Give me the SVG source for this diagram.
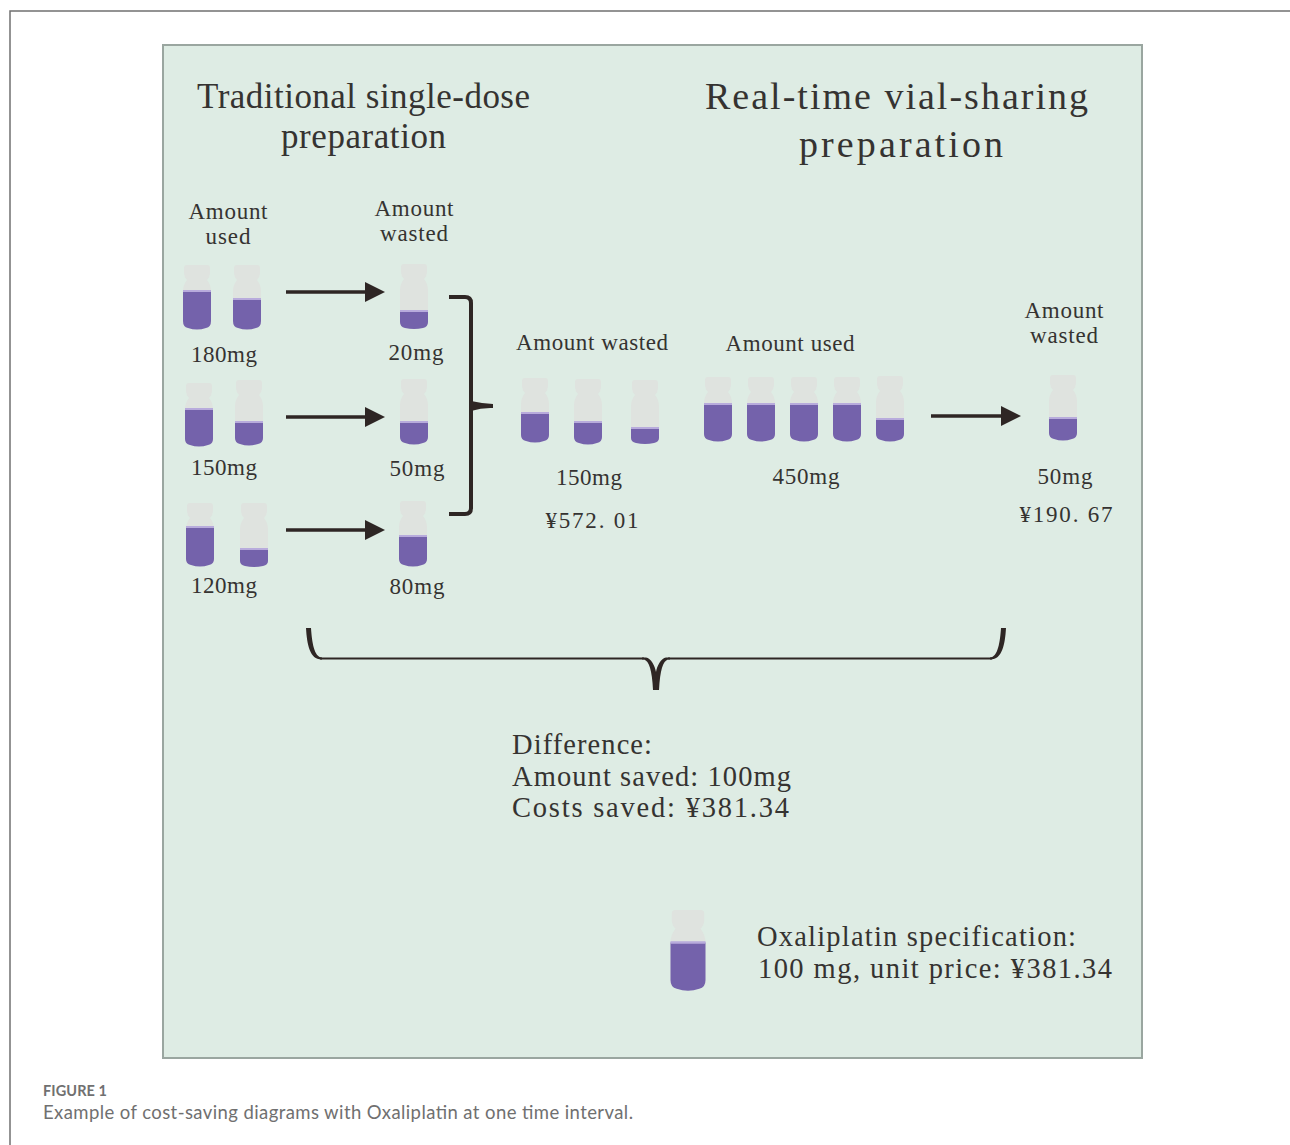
<svg xmlns="http://www.w3.org/2000/svg" xmlns:xlink="http://www.w3.org/1999/xlink" width="1290" height="1145" viewBox="0 0 1290 1145">
<style>
text{font-family:"Liberation Serif","Times New Roman",serif;fill:#353331}
.t1{font-size:35px}
.t2{font-size:38px}
.lab{font-size:23px}
.big{font-size:28.500px}
.glass{fill:#dfe3df}
.liq{fill:#7462ab}
.hi{fill:#b8abdc}
.ln{fill:none;stroke:#2e2624;stroke-width:3.5}
.ah{fill:#2e2624}
.cap{font-family:Lato,"Open Sans",sans-serif;fill:#707070}
</style>
<defs>
<path id="glass" d="M-10,0H10Q13,0 13,3V8Q13,12 10,15Q14,20 14,26V60H-14V26Q-14,20 -10,15Q-13,12 -13,8V3Q-13,0 -10,0Z"/>
<marker id="arr" markerUnits="userSpaceOnUse" markerWidth="22" markerHeight="22" refX="2" refY="11" orient="auto"><path class="ah" d="M0,1L20,11L0,21Z"/></marker>
</defs>
<rect x="0" y="0" width="1290" height="1145" fill="#ffffff"/>
<path d="M10,1145V11H1290" fill="none" stroke="#707070" stroke-width="1.5"/>
<rect id="panel" x="163" y="45" width="979" height="1013" fill="#deece4" stroke="#9aa6a0" stroke-width="2"/>

<g id="titles">
<text class="t1" x="197" y="108" textLength="333" lengthAdjust="spacing">Traditional single-dose</text>
<text class="t1" x="281" y="148" textLength="165" lengthAdjust="spacing">preparation</text>
<text class="t2" x="705" y="109" textLength="383" lengthAdjust="spacing">Real-time vial-sharing</text>
<text class="t2" x="799" y="157" textLength="204" lengthAdjust="spacing">preparation</text>
</g>

<g id="vials-used-traditional">
<g transform="translate(197,265)"><use href="#glass" class="glass"/><path class="liq" d="M-14,26H14V56Q14,62 9,63Q0,66 -9,63Q-14,62 -14,56Z"/><rect class="hi" x="-14" y="25" width="28" height="2"/></g>
<g transform="translate(247,265)"><use href="#glass" class="glass"/><path class="liq" d="M-14,34H14V56Q14,62 9,63Q0,66 -9,63Q-14,62 -14,56Z"/><rect class="hi" x="-14" y="33" width="28" height="2"/></g>
<g transform="translate(199,383)"><use href="#glass" class="glass"/><path class="liq" d="M-14,26H14V56Q14,61 9,62Q0,65 -9,62Q-14,61 -14,56Z"/><rect class="hi" x="-14" y="25" width="28" height="2"/></g>
<g transform="translate(249,380)"><use href="#glass" class="glass"/><path class="liq" d="M-14,42H14V58Q14,63 9,64Q0,67 -9,64Q-14,63 -14,58Z"/><rect class="hi" x="-14" y="41" width="28" height="2"/></g>
<g transform="translate(200,503)"><use href="#glass" class="glass"/><path class="liq" d="M-14,24H14V56Q14,61 9,62Q0,65 -9,62Q-14,61 -14,56Z"/><rect class="hi" x="-14" y="23" width="28" height="2"/></g>
<g transform="translate(254,503)"><use href="#glass" class="glass"/><path class="liq" d="M-14,46H14V58Q14,62 9,63Q0,65 -9,63Q-14,62 -14,58Z"/><rect class="hi" x="-14" y="45" width="28" height="2"/></g>
</g>

<g id="vials-wasted-traditional">
<g transform="translate(414,264)"><use href="#glass" class="glass"/><path class="liq" d="M-14,47H14V58Q14,63 9,64Q0,66 -9,64Q-14,63 -14,58Z"/><rect class="hi" x="-14" y="46" width="28" height="2"/></g>
<g transform="translate(414,379)"><use href="#glass" class="glass"/><path class="liq" d="M-14,43H14V58Q14,63 9,64Q0,67 -9,64Q-14,63 -14,58Z"/><rect class="hi" x="-14" y="42" width="28" height="2"/></g>
<g transform="translate(413,501)"><use href="#glass" class="glass"/><path class="liq" d="M-14,35H14V58Q14,63 9,64Q0,67 -9,64Q-14,63 -14,58Z"/><rect class="hi" x="-14" y="34" width="28" height="2"/></g>
</g>

<g id="vials-middle">
<g transform="translate(535,378)"><use href="#glass" class="glass"/><path class="liq" d="M-14,35H14V57Q14,62 9,63Q0,66 -9,63Q-14,62 -14,57Z"/><rect class="hi" x="-14" y="34" width="28" height="2"/></g>
<g transform="translate(588,379)"><use href="#glass" class="glass"/><path class="liq" d="M-14,43H14V58Q14,63 9,64Q0,67 -9,64Q-14,63 -14,58Z"/><rect class="hi" x="-14" y="42" width="28" height="2"/></g>
<g transform="translate(645,380)"><use href="#glass" class="glass"/><path class="liq" d="M-14,48H14V58Q14,62 9,63Q0,65 -9,63Q-14,62 -14,58Z"/><rect class="hi" x="-14" y="47" width="28" height="2"/></g>
</g>

<g id="vials-sharing">
<g transform="translate(718,377)"><use href="#glass" class="glass"/><path class="liq" d="M-14,27H14V57Q14,62 9,63Q0,66 -9,63Q-14,62 -14,57Z"/><rect class="hi" x="-14" y="26" width="28" height="2"/></g>
<g transform="translate(761,377)"><use href="#glass" class="glass"/><path class="liq" d="M-14,27H14V57Q14,62 9,63Q0,66 -9,63Q-14,62 -14,57Z"/><rect class="hi" x="-14" y="26" width="28" height="2"/></g>
<g transform="translate(804,377)"><use href="#glass" class="glass"/><path class="liq" d="M-14,27H14V57Q14,62 9,63Q0,66 -9,63Q-14,62 -14,57Z"/><rect class="hi" x="-14" y="26" width="28" height="2"/></g>
<g transform="translate(847,377)"><use href="#glass" class="glass"/><path class="liq" d="M-14,27H14V57Q14,62 9,63Q0,66 -9,63Q-14,62 -14,57Z"/><rect class="hi" x="-14" y="26" width="28" height="2"/></g>
<g transform="translate(890,376)"><use href="#glass" class="glass"/><path class="liq" d="M-14,43H14V58Q14,63 9,64Q0,67 -9,64Q-14,63 -14,58Z"/><rect class="hi" x="-14" y="42" width="28" height="2"/></g>
<g transform="translate(1063,375)"><use href="#glass" class="glass"/><path class="liq" d="M-14,43H14V58Q14,63 9,64Q0,67 -9,64Q-14,63 -14,58Z"/><rect class="hi" x="-14" y="42" width="28" height="2"/></g>
</g>

<g id="legend-vial" transform="translate(688,910) scale(1.25,1.25)"><use href="#glass" class="glass"/><path class="liq" d="M-14,26H14V56Q14,62 9,63Q0,66 -9,63Q-14,62 -14,56Z"/><rect class="hi" x="-14" y="25" width="28" height="2"/></g>

<g id="connectors">
<path class="ln" d="M286,292H367" marker-end="url(#arr)"/>
<path class="ln" d="M286,417H367" marker-end="url(#arr)"/>
<path class="ln" d="M286,530H367" marker-end="url(#arr)"/>
<path class="ln" d="M931,416H1003" marker-end="url(#arr)"/>
<path class="ln" style="stroke-width:4" d="M449,297H465Q471,297 471,303V508Q471,514 465,514H449"/>
<path class="ah" d="M471,401Q482,403.500 493,404V408Q482,407.500 471,411Z"/>
<path class="ln" style="stroke-width:2" d="M320,658.500H644M668,658.500H992"/>
<path class="ah" d="M306,628H311C312,642 314,657 322,657.500L322,659.500C310,660 307,645 306,628ZM1006,628H1001C1000,642 998,657 990,657.500L990,659.500C1002,660 1005,645 1006,628ZM642,657.500H646C651,658 655,666 656,672C657,666 661,658 666,657.500H670V659.500H668C663,661 660,670 659,690H653C652,670 649,661 644,659.500H642Z"/>
</g>

<g id="labels">
<text class="lab" x="228" y="219" text-anchor="middle" textLength="79">Amount</text>
<text class="lab" x="228" y="244" text-anchor="middle" textLength="45">used</text>
<text class="lab" x="414" y="216" text-anchor="middle" textLength="79">Amount</text>
<text class="lab" x="414" y="241" text-anchor="middle" textLength="68">wasted</text>
<text class="lab" x="224" y="362" text-anchor="middle" textLength="66">180mg</text>
<text class="lab" x="224" y="475" text-anchor="middle" textLength="66">150mg</text>
<text class="lab" x="224" y="593" text-anchor="middle" textLength="66">120mg</text>
<text class="lab" x="416" y="360" text-anchor="middle" textLength="55">20mg</text>
<text class="lab" x="417" y="476" text-anchor="middle" textLength="55">50mg</text>
<text class="lab" x="417" y="594" text-anchor="middle" textLength="55">80mg</text>
<text class="lab" x="592" y="350" text-anchor="middle" textLength="152">Amount wasted</text>
<text class="lab" x="790" y="351" text-anchor="middle" textLength="129">Amount used</text>
<text class="lab" x="1064" y="318" text-anchor="middle" textLength="79">Amount</text>
<text class="lab" x="1064" y="343" text-anchor="middle" textLength="68">wasted</text>
<text class="lab" x="589" y="485" text-anchor="middle" textLength="66">150mg</text>
<text class="lab" x="592" y="528" text-anchor="middle" textLength="93">¥572. 01</text>
<text class="lab" x="806" y="484" text-anchor="middle" textLength="67">450mg</text>
<text class="lab" x="1065" y="484" text-anchor="middle" textLength="55">50mg</text>
<text class="lab" x="1066" y="522" text-anchor="middle" textLength="93">¥190. 67</text>
</g>

<g id="summary">
<text class="big" x="512" y="754" textLength="140">Difference:</text>
<text class="big" x="512" y="786" textLength="279">Amount saved: 100mg</text>
<text class="big" x="512" y="817" textLength="277">Costs saved: ¥381.34</text>
<text class="big" x="757" y="946" textLength="319">Oxaliplatin specification:</text>
<text class="big" x="758" y="978" textLength="354">100 mg, unit price: ¥381.34</text>
</g>

<g id="caption">
<text class="cap" x="43" y="1096" font-size="14.500" font-weight="700" textLength="64">FIGURE 1</text>
<text class="cap" x="43" y="1119" font-size="18.500" textLength="590">Example of cost-saving diagrams with Oxaliplatin at one time interval.</text>
</g>
</svg>
